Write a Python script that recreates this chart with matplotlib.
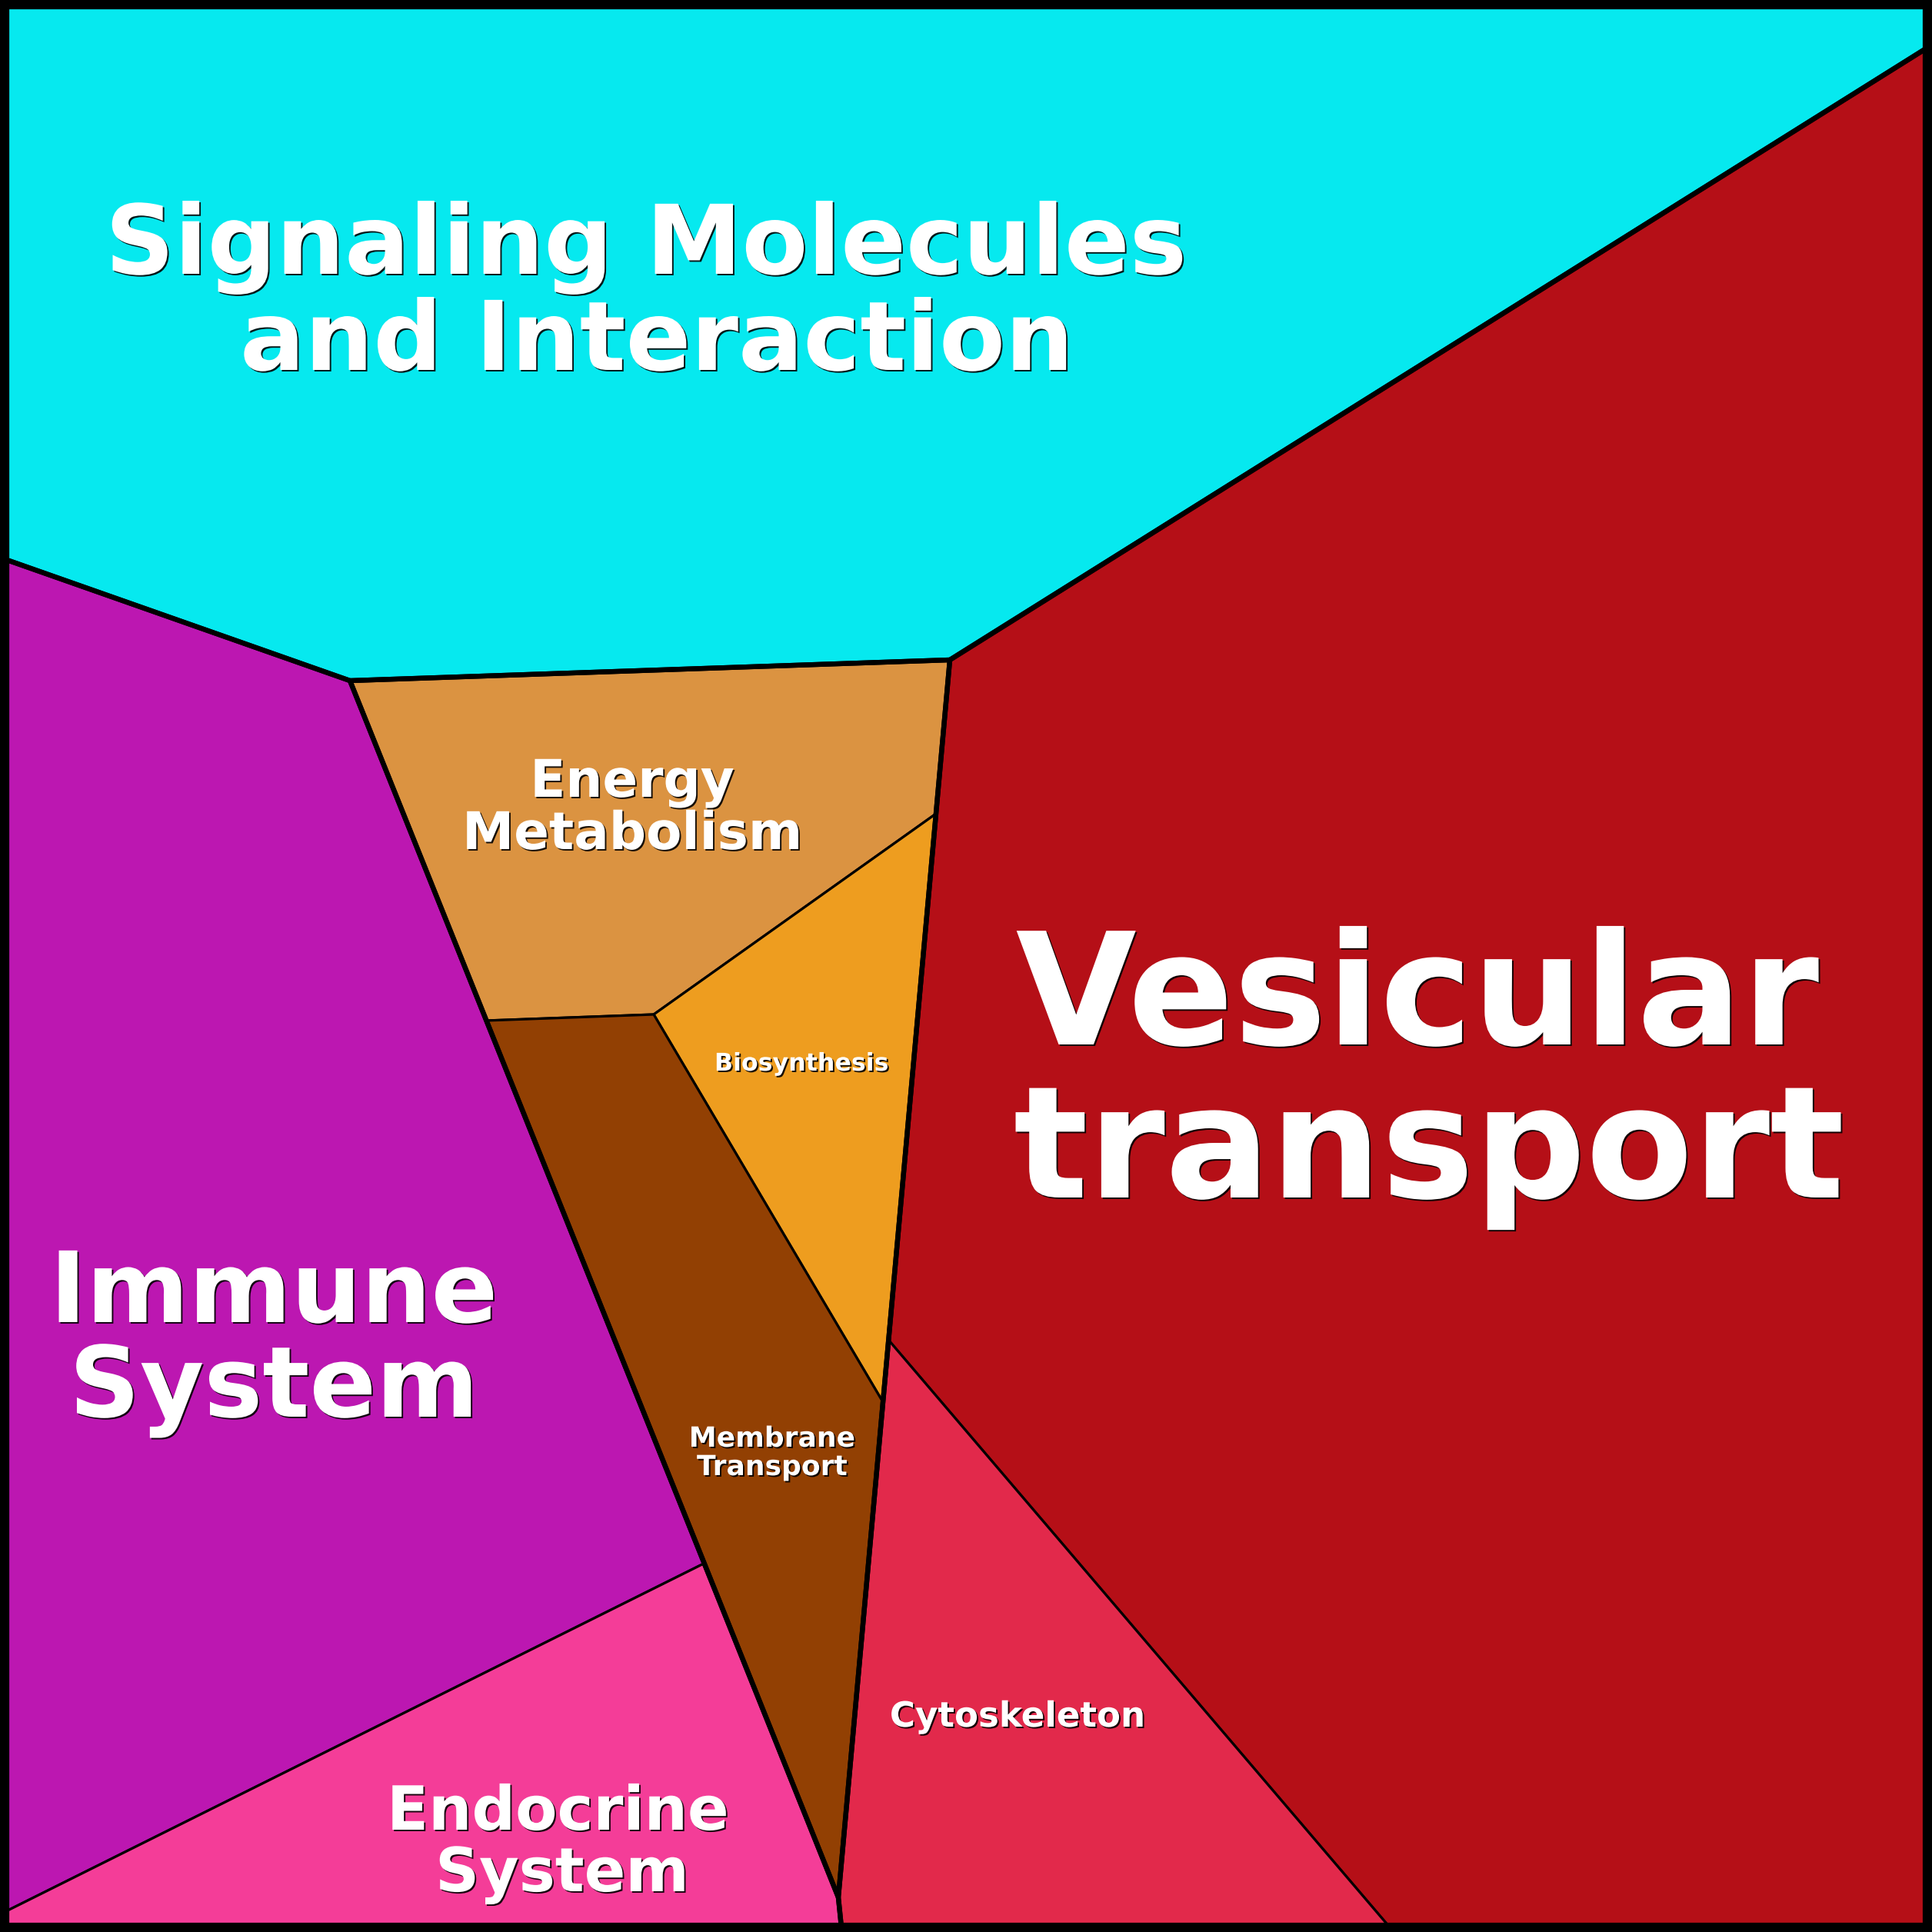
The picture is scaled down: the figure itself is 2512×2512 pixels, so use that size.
import matplotlib
matplotlib.use("Agg")
import matplotlib.pyplot as plt
from matplotlib.patches import Polygon, Rectangle
import matplotlib.patheffects as pe

# ---------------- data ----------------
# Voronoi-treemap vertices (canvas pixel units, y downward)
V = {
    "A": (6, 6), "B": (2506, 6), "C": (2506, 62), "D": (1235, 858),
    "E": (455, 885), "F": (6, 727), "G": (1217, 1058), "H": (850, 1319),
    "I": (632, 1327), "J": (1155, 1742), "K": (1148, 1823), "L": (1090, 2467),
    "M": (1094, 2506), "N": (1807, 2506), "O": (2506, 2506), "P": (915, 2033),
    "Q": (6, 2486), "R": (6, 2506),
}

cell_names = ["Signaling Molecules\nand Interaction", "Vesicular\ntransport",
              "Cytoskeleton", "Energy\nMetabolism", "Biosynthesis",
              "Membrane\nTransport", "Immune\nSystem", "Endocrine\nSystem"]
cell_colors = ["#06e9ef", "#b50f17", "#e2294b", "#db9341", "#ee9d1f",
               "#924003", "#bc17b1", "#f43d98"]
cell_vertices = [
    ["A", "B", "C", "D", "E", "F"],
    ["D", "C", "O", "N", "J"],
    ["J", "N", "M", "L", "K"],
    ["E", "D", "G", "H", "I"],
    ["H", "G", "K"],
    ["I", "H", "K", "L"],
    ["F", "E", "I", "P", "Q"],
    ["Q", "P", "L", "M", "R"],
]
group_vertices = [
    ["A", "B", "C", "D", "E", "F"],
    ["D", "C", "O", "M", "L"],
    ["E", "D", "L"],
    ["F", "E", "L", "M", "R"],
]

label_x = [[840, 854], [1843, 1858], [1323], [822, 822], [1042],
           [1004, 1004], [356, 356], [725, 731]]
label_baselines = [[356, 481], [1358, 1557], [2245], [1036, 1104], [1392],
                   [1881, 1918], [1719, 1842], [2379, 2459]]
label_sizes = [90, 146, 32.5, 48.6, 22.8, 26, 92, 57]

# ---------------- plot ----------------
W = 2512
fig = plt.figure(figsize=(25.12, 25.12), dpi=100)
ax = fig.add_axes([0, 0, 1, 1])
ax.set_xlim(0, W)
ax.set_ylim(W, 0)
ax.axis("off")
fig.patch.set_facecolor("black")

for verts, col in zip(cell_vertices, cell_colors):
    pts = [V[k] for k in verts]
    ax.add_patch(Polygon(pts, closed=True, facecolor=col, edgecolor="black",
                         linewidth=2.3, joinstyle="round", zorder=1))

for verts in group_vertices:
    pts = [V[k] for k in verts]
    ax.add_patch(Polygon(pts, closed=True, facecolor="none", edgecolor="black",
                         linewidth=4.6, joinstyle="round", zorder=2))

ax.add_patch(Rectangle((6, 6), 2500, 2500, facecolor="none", edgecolor="black",
                       linewidth=8.8, joinstyle="round", zorder=3))

shadow = [pe.SimplePatchShadow(offset=(1.4, -1.4), shadow_rgbFace="black", alpha=0.9),
          pe.Normal()]
for name, xs, bls, fs in zip(cell_names, label_x, label_baselines, label_sizes):
    for line, x, y in zip(name.split("\n"), xs, bls):
        ax.text(x, y, line, ha="center", va="baseline", fontsize=fs,
                fontweight="bold", color="white", family="DejaVu Sans",
                path_effects=shadow, zorder=5)

fig.savefig("out.png", dpi=100, facecolor="black")
